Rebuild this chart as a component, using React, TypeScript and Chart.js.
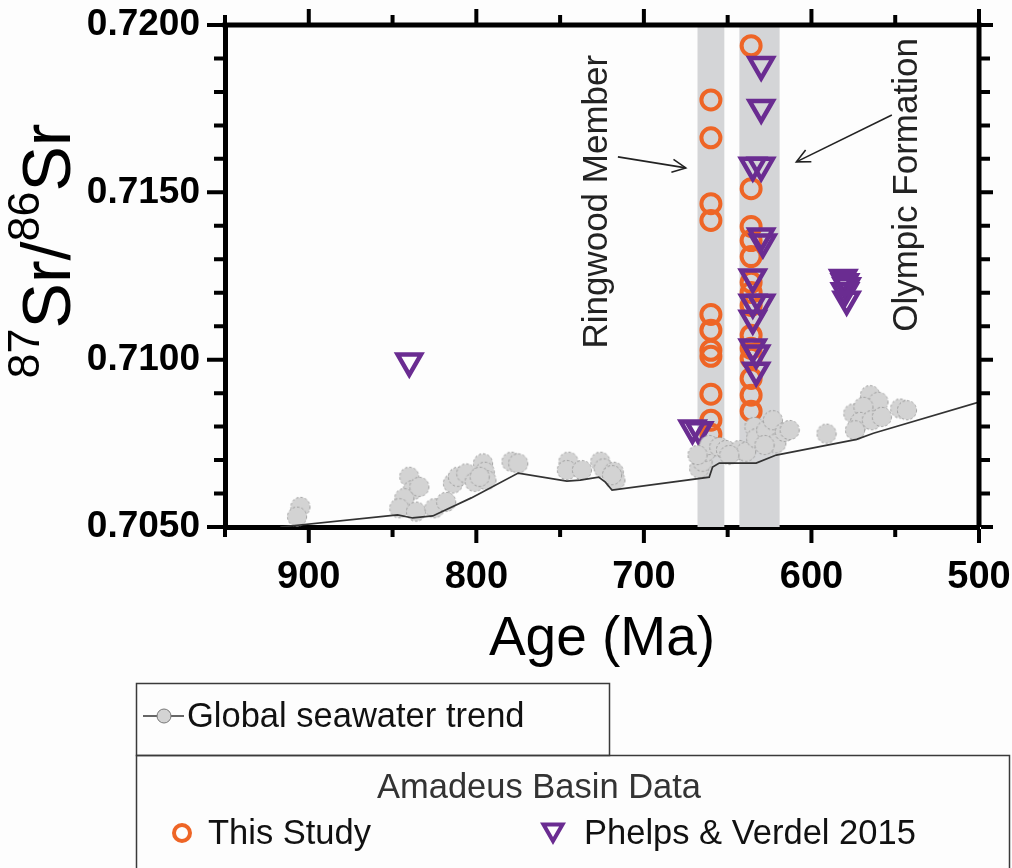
import React, { useEffect, useRef } from "react";
import { Chart, registerables } from "chart.js";

Chart.register(...registerables);

// ---- axis ticks ----
const xTickValues = [900, 800, 700, 600, 500];
const yTickValues = [0.705, 0.71, 0.715, 0.72];

// ---- global seawater trend (curve) ----
const trendAge = [917, 847, 838, 826, 803, 775, 746, 738, 727, 723, 719, 661, 659, 655, 633, 621, 573, 563, 500];
const trendSr = [0.705, 0.70536, 0.70527, 0.70533, 0.70587, 0.70661, 0.70637, 0.7064, 0.70649, 0.70634, 0.7061, 0.70649, 0.70679, 0.70691, 0.70691, 0.70715, 0.70762, 0.7078, 0.70873];

// ---- global seawater data points ----
const seawaterAge = [905, 907, 840, 838, 843, 846, 836, 834, 825, 818, 814, 811, 806, 801, 796, 795, 794, 798, 779, 775, 745, 746, 737, 726, 724, 718, 717, 719, 667, 665, 663, 661, 655, 651, 643, 639, 634, 633, 627, 623, 621, 616, 668, 649, 628, 613, 591, 575, 565, 560, 569, 571, 574, 564, 558, 547, 543];
const seawaterSr = [0.7056, 0.70531, 0.7065, 0.7061, 0.70586, 0.70556, 0.70546, 0.7062, 0.70556, 0.70575, 0.7063, 0.7065, 0.7066, 0.70635, 0.7069, 0.70665, 0.7064, 0.7065, 0.70695, 0.7069, 0.70695, 0.7067, 0.7067, 0.70695, 0.70675, 0.70665, 0.7064, 0.70655, 0.70675, 0.70695, 0.70725, 0.70745, 0.70739, 0.7073, 0.7073, 0.70725, 0.70799, 0.70765, 0.70789, 0.70819, 0.7075, 0.70784, 0.70715, 0.70715, 0.70745, 0.7079, 0.70779, 0.70839, 0.70894, 0.70874, 0.70859, 0.70814, 0.70789, 0.70819, 0.70829, 0.70854, 0.70849];

// ---- This Study (Amadeus Basin) ----
const thisStudyAge = [660, 660, 660, 660, 660, 660, 660, 660, 660, 660, 660, 636, 636, 636, 636, 636, 636, 636, 636, 636, 636, 636, 636, 636, 636];
const thisStudySr = [0.71776, 0.71663, 0.71466, 0.71416, 0.71135, 0.71088, 0.71028, 0.7101, 0.70897, 0.70819, 0.70777, 0.71938, 0.71511, 0.71398, 0.71356, 0.71308, 0.71231, 0.71201, 0.71162, 0.71073, 0.71034, 0.71004, 0.70944, 0.70894, 0.70846];

// ---- Phelps & Verdel 2015 ----
const phelpsAge = [840, 671, 667, 581, 580, 579, 580, 579, 630, 630, 635, 630, 630, 629, 635, 635, 630, 635, 635, 633, 633];
const phelpsSr = [0.70995, 0.70795, 0.7079, 0.71245, 0.71232, 0.7122, 0.71205, 0.7118, 0.71881, 0.71753, 0.7158, 0.7158, 0.71369, 0.71351, 0.71246, 0.71171, 0.71171, 0.71123, 0.71037, 0.71019, 0.70968];

// ---- shaded intervals (age ranges) ----
const ringwoodBand = [668, 652];
const olympicBand = [643, 619];

const ORANGE = "#ee6526";
const PURPLE = "#6a2c91";
const FONT = '"Liberation Sans", Arial, sans-serif';

const zip = (xs: number[], ys: number[]) => xs.map((x, i) => ({ x, y: ys[i] }));

function makeSeawaterMarker(): HTMLCanvasElement {
  const c = document.createElement("canvas");
  c.width = 22;
  c.height = 22;
  const g = c.getContext("2d")!;
  g.beginPath();
  g.arc(11, 11, 9.6, 0, Math.PI * 2);
  g.fillStyle = "#d3d3d3";
  g.fill();
  g.setLineDash([2.5, 2]);
  g.strokeStyle = "#9c9c9c";
  g.lineWidth = 1;
  g.stroke();
  return c;
}

function arrow(ctx: CanvasRenderingContext2D, x1: number, y1: number, x2: number, y2: number) {
  ctx.beginPath();
  ctx.moveTo(x1, y1);
  ctx.lineTo(x2, y2);
  ctx.stroke();
  const a = Math.atan2(y2 - y1, x2 - x1);
  const L = 15;
  const s = 0.45;
  ctx.beginPath();
  ctx.moveTo(x2 - L * Math.cos(a - s), y2 - L * Math.sin(a - s));
  ctx.lineTo(x2, y2);
  ctx.lineTo(x2 - L * Math.cos(a + s), y2 - L * Math.sin(a + s));
  ctx.stroke();
}

function drawTriangle(ctx: CanvasRenderingContext2D, x: number, y: number, r: number) {
  ctx.beginPath();
  for (let i = 0; i < 3; i++) {
    const ang = Math.PI + (i * 2 * Math.PI) / 3;
    const px = x + Math.sin(ang) * r;
    const py = y - Math.cos(ang) * r;
    if (i === 0) ctx.moveTo(px, py);
    else ctx.lineTo(px, py);
  }
  ctx.closePath();
  ctx.stroke();
}

const decorPlugin = {
  id: "decor",
  beforeDatasetsDraw(chart: any) {
    const { ctx, chartArea: a, scales } = chart;
    const xs = scales.x;
    ctx.save();
    ctx.fillStyle = "#d4d5d7";
    for (const band of [ringwoodBand, olympicBand]) {
      const p1 = xs.getPixelForValue(band[0]);
      const p2 = xs.getPixelForValue(band[1]);
      ctx.fillRect(p1, a.top, p2 - p1, a.bottom - a.top);
    }
    ctx.restore();
  },
  afterDraw(chart: any) {
    const { ctx, chartArea: a, scales } = chart;
    const xs = scales.x;
    const ys = scales.y;
    ctx.save();
    // top and right frame
    ctx.strokeStyle = "#000";
    ctx.lineWidth = 5;
    ctx.beginPath();
    ctx.moveTo(a.left - 2.5, a.top);
    ctx.lineTo(a.right + 2.5, a.top);
    ctx.moveTo(a.right, a.top);
    ctx.lineTo(a.right, a.bottom);
    ctx.stroke();

    // tick marks (major + minor) on all four sides
    ctx.lineWidth = 4;
    ctx.beginPath();
    for (let k = 0; k <= 9; k++) {
      const v = 500 + k * 50;
      const px = xs.getPixelForValue(v);
      const L = v % 100 === 0 ? 14 : 8;
      ctx.moveTo(px, a.bottom + 2);
      ctx.lineTo(px, a.bottom + 2 + L);
      ctx.moveTo(px, a.top - 2);
      ctx.lineTo(px, a.top - 2 - L);
    }
    for (let k = 0; k <= 15; k++) {
      const v = 0.705 + k * 0.001;
      const py = ys.getPixelForValue(v);
      const L = k % 5 === 0 ? 16 : 9;
      ctx.moveTo(a.left - 2, py);
      ctx.lineTo(a.left - 2 - L, py);
      ctx.moveTo(a.right + 2, py);
      ctx.lineTo(a.right + 2 + (k % 5 === 0 ? 12 : 9), py);
    }
    ctx.stroke();

    // y-axis title 87Sr/86Sr
    ctx.save();
    ctx.translate(70, 251);
    ctx.rotate(-Math.PI / 2);
    ctx.fillStyle = "#000";
    ctx.textBaseline = "alphabetic";
    const big = `68px ${FONT}`;
    const sup = `45px ${FONT}`;
    const parts: [string, string, number][] = [
      ["87", sup, -31],
      ["Sr/", big, 0],
      ["86", sup, -31],
      ["Sr", big, 0],
    ];
    let total = 0;
    for (const [t, f] of parts) {
      ctx.font = f;
      total += ctx.measureText(t).width;
    }
    let cx = -total / 2;
    for (const [t, f, dy] of parts) {
      ctx.font = f;
      ctx.fillText(t, cx, dy);
      cx += ctx.measureText(t).width;
    }
    ctx.restore();

    // annotations
    ctx.fillStyle = "#222";
    ctx.font = `35px ${FONT}`;
    ctx.textAlign = "center";
    ctx.textBaseline = "middle";
    ctx.save();
    ctx.translate(xs.getPixelForValue(727.5), ys.getPixelForValue(0.71472));
    ctx.rotate(-Math.PI / 2);
    ctx.fillText("Ringwood Member", 0, 0);
    ctx.restore();
    ctx.save();
    ctx.translate(xs.getPixelForValue(542.5), ys.getPixelForValue(0.71522));
    ctx.rotate(-Math.PI / 2);
    ctx.fillText("Olympic Formation", 0, 0);
    ctx.restore();

    ctx.strokeStyle = "#222";
    ctx.lineWidth = 1.6;
    arrow(ctx, xs.getPixelForValue(715.5), ys.getPixelForValue(0.71606), xs.getPixelForValue(675), ys.getPixelForValue(0.71573));
    arrow(ctx, xs.getPixelForValue(552), ys.getPixelForValue(0.71731), xs.getPixelForValue(609), ys.getPixelForValue(0.71591));

    // legend boxes
    ctx.strokeStyle = "#3a3a3a";
    ctx.lineWidth = 1.5;
    ctx.strokeRect(136.5, 683.5, 473, 72);
    ctx.strokeRect(136.5, 755.5, 873, 130);

    ctx.textAlign = "left";
    ctx.textBaseline = "middle";
    ctx.font = `34.5px ${FONT}`;
    // seawater entry
    ctx.strokeStyle = "#333";
    ctx.lineWidth = 1.5;
    ctx.beginPath();
    ctx.moveTo(143, 716);
    ctx.lineTo(184, 716);
    ctx.stroke();
    ctx.beginPath();
    ctx.arc(164, 716, 7, 0, Math.PI * 2);
    ctx.fillStyle = "#d3d3d3";
    ctx.fill();
    ctx.strokeStyle = "#777";
    ctx.lineWidth = 1;
    ctx.stroke();
    ctx.fillStyle = "#111";
    ctx.fillText("Global seawater trend", 187, 717);

    ctx.fillStyle = "#333";
    ctx.textAlign = "center";
    ctx.fillText("Amadeus Basin Data", 539, 788);

    ctx.textAlign = "left";
    ctx.strokeStyle = ORANGE;
    ctx.lineWidth = 4;
    ctx.beginPath();
    ctx.arc(182, 833, 8, 0, Math.PI * 2);
    ctx.stroke();
    ctx.fillStyle = "#111";
    ctx.fillText("This Study", 208, 834);

    ctx.strokeStyle = PURPLE;
    ctx.lineWidth = 4;
    ctx.lineJoin = "miter";
    drawTriangle(ctx, 553, 830, 11);
    ctx.fillText("Phelps & Verdel 2015", 584, 834);

    ctx.restore();
  },
};

export default function App() {
  const ref = useRef<HTMLCanvasElement | null>(null);

  useEffect(() => {
    if (!ref.current) return;
    const marker = makeSeawaterMarker();
    const chart = new Chart(ref.current, {
      type: "scatter",
      data: {
        datasets: [
          {
            label: "Global seawater trend line",
            data: zip(trendAge, trendSr),
            showLine: true,
            borderColor: "#333",
            borderWidth: 1.7,
            pointRadius: 0,
            fill: false,
            order: 1,
          } as any,
          {
            label: "Global seawater trend",
            data: zip(seawaterAge, seawaterSr),
            pointStyle: marker,
            pointRadius: 10,
            order: 2,
          } as any,
          {
            label: "Phelps & Verdel 2015",
            data: zip(phelpsAge, phelpsSr),
            pointStyle: "triangle",
            rotation: 180,
            pointRadius: 13.5,
            borderWidth: 4.5,
            borderColor: PURPLE,
            backgroundColor: "rgba(0,0,0,0)",
            order: 3,
          } as any,
          {
            label: "This Study",
            data: zip(thisStudyAge, thisStudySr),
            pointStyle: "circle",
            pointRadius: 9.5,
            borderWidth: 4,
            borderColor: ORANGE,
            backgroundColor: "rgba(0,0,0,0)",
            order: 4,
          } as any,
        ],
      },
      options: {
        responsive: false,
        animation: false,
        events: [],
        layout: { padding: { top: 25, right: 33, left: 0, bottom: 0 } },
        plugins: {
          legend: { display: false },
          tooltip: { enabled: false },
        },
        scales: {
          x: {
            type: "linear",
            min: 500,
            max: 950,
            reverse: true,
            afterBuildTicks: (s: any) => {
              s.ticks = xTickValues.map((v) => ({ value: v }));
            },
            afterFit: (s: any) => {
              s.height = 868 - 527;
              s.paddingLeft = 0;
              s.paddingRight = 0;
            },
            grid: { display: false, drawTicks: false },
            border: { display: true, width: 5, color: "#000" },
            ticks: {
              autoSkip: false,
              maxRotation: 0,
              padding: 28,
              color: "#000",
              font: { family: FONT, size: 38, weight: "bold" },
              callback: (v: any) => String(v),
            },
            title: {
              display: true,
              text: "Age (Ma)",
              color: "#000",
              font: { family: FONT, size: 55 },
              padding: { top: 0, bottom: 195 },
            },
          },
          y: {
            type: "linear",
            min: 0.705,
            max: 0.72,
            afterBuildTicks: (s: any) => {
              s.ticks = yTickValues.map((v) => ({ value: v }));
            },
            afterFit: (s: any) => {
              s.width = 225;
              s.paddingTop = 0;
              s.paddingBottom = 0;
            },
            grid: { display: false, drawTicks: false },
            border: { display: true, width: 5, color: "#000" },
            ticks: {
              padding: 25,
              color: "#000",
              font: { family: FONT, size: 37, weight: "bold" },
              callback: (v: any) => Number(v).toFixed(4),
            },
          },
        },
      } as any,
      plugins: [decorPlugin],
    });
    return () => chart.destroy();
  }, []);

  return (
    <div style={{ position: "absolute", left: 0, top: 0, width: 1012, height: 868, background: "#fdfdfd" }}>
      <canvas ref={ref} width={1012} height={868} style={{ display: "block", width: 1012, height: 868 }} />
    </div>
  );
}
